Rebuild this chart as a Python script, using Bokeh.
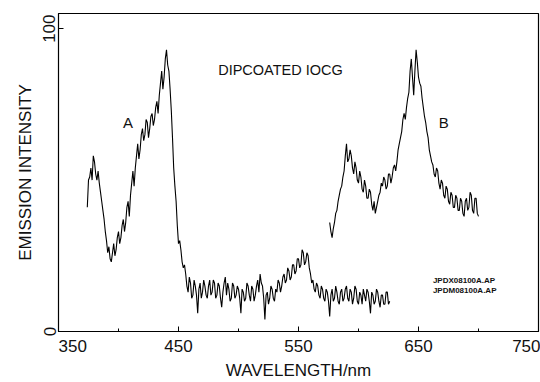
from bokeh.plotting import figure
from bokeh.models import Label, Range1d, FixedTicker
from bokeh.embed import file_html
from bokeh.resources import INLINE

# ---- data (1 nm sampling) ----
wl_a = list(range(374, 627))
int_a = [41, 50, 51, 54, 50, 58, 56, 52, 50, 53,
         49, 46, 43, 40, 37, 33, 30, 26, 28, 24,
         23, 26, 29, 25, 27, 31, 33, 29, 31, 35,
         37, 33, 36, 41, 43, 38, 45, 49, 53, 48,
         54, 58, 62, 57, 60, 65, 67, 63, 65, 70,
         69, 64, 67, 71, 72, 68, 70, 74, 76, 72,
         78, 82, 86, 80, 84, 90, 93, 88, 86, 80,
         73, 64, 54, 48, 43, 35, 29, 30, 27, 23,
         21, 22, 19, 15, 13, 18, 16, 11, 12, 17,
         15, 12, 6, 14, 16, 11, 13, 17, 15, 12,
         11, 15, 17, 12, 13, 17, 16, 11, 12, 16,
         15, 11, 8, 13, 16, 18, 12, 16, 14, 10,
         11, 16, 15, 11, 12, 15, 14, 11, 6, 14,
         13, 10, 11, 16, 15, 12, 10, 15, 14, 10,
         12, 15, 17, 13, 19, 16, 15, 11, 4, 12,
         13, 9, 11, 15, 14, 11, 10, 14, 13, 17,
         16, 13, 15, 18, 19, 16, 17, 21, 20, 17,
         18, 22, 22, 19, 20, 24, 24, 21, 22, 27,
         26, 22, 23, 26, 25, 21, 19, 16, 17, 14,
         13, 16, 15, 12, 11, 15, 14, 11, 10, 14,
         13, 10, 5, 12, 14, 10, 11, 15, 13, 10,
         9, 13, 14, 10, 11, 14, 15, 11, 10, 14,
         13, 9, 11, 15, 14, 10, 9, 13, 12, 9,
         14, 12, 10, 14, 13, 10, 6, 13, 12, 9,
         10, 14, 13, 10, 8, 12, 12, 9, 9, 13,
         13, 9, 10]

wl_b = list(range(576, 701))
int_b = [36, 33, 31, 34, 36, 39, 40, 43, 45, 47,
         48, 51, 53, 58, 62, 56, 57, 60, 58, 54,
         52, 56, 54, 50, 49, 53, 51, 47, 46, 50,
         48, 44, 44, 47, 46, 42, 40, 43, 39, 41,
         43, 45, 46, 49, 48, 51, 50, 47, 48, 52,
         52, 49, 51, 54, 55, 53, 56, 60, 62, 64,
         66, 70, 72, 70, 74, 77, 79, 86, 90, 84,
         78, 86, 93, 89, 84, 82, 81, 77, 74, 71,
         69, 66, 64, 60, 58, 56, 55, 52, 51, 54,
         53, 49, 47, 50, 49, 45, 44, 48, 47, 43,
         42, 46, 45, 41, 41, 45, 44, 40, 40, 44,
         43, 39, 38, 43, 44, 40, 41, 46, 45, 40,
         39, 44, 44, 39, 38]

x_ticks = [350, 450, 550, 650, 750]
y_ticks = [0, 100]
chart_title = "DIPCOATED IOCG"
curve_names = ["A", "B"]
file_names = ["JPDX08100A.AP", "JPDM08100A.AP"]

assert len(wl_a) == len(int_a)
assert len(wl_b) == len(int_b)

FONT = "Liberation Sans"
INK = "#111111"

p = figure(width=540, height=382, output_backend="svg", toolbar_location=None,
           title=None,
           x_range=Range1d(350, 750), y_range=Range1d(0, 105),
           min_border_left=58, min_border_right=2, min_border_top=13,
           min_border_bottom=49)

p.line(wl_a, int_a, line_color="black", line_width=1.1)
p.line(wl_b, int_b, line_color="black", line_width=1.1)

p.grid.visible = False
p.outline_line_color = "black"
p.outline_line_width = 1.2
p.background_fill_color = "white"
p.border_fill_color = "white"

xa = p.xaxis[0]
xa.ticker = FixedTicker(ticks=x_ticks, minor_ticks=[400, 500, 600, 700])
xa.major_label_overrides = {350: "\u00a0" * 6 + "350"}
xa.major_tick_in = 5
xa.major_tick_out = 0
xa.minor_tick_in = 3
xa.minor_tick_out = 0
xa.major_label_standoff = 5
xa.major_label_text_font = FONT
xa.major_label_text_font_size = "17px"
xa.major_label_text_color = INK
xa.axis_label = "WAVELENGTH/nm"
xa.axis_label_standoff = 2
xa.axis_label_text_font = FONT
xa.axis_label_text_font_size = "17px"
xa.axis_label_text_font_style = "normal"
xa.axis_label_text_color = INK
xa.axis_line_color = "black"
xa.axis_line_width = 1.2

ya = p.yaxis[0]
ya.ticker = FixedTicker(ticks=y_ticks)
ya.major_label_orientation = "parallel"
ya.major_tick_in = 5
ya.major_tick_out = 0
ya.minor_tick_line_color = None
ya.major_label_standoff = 3
ya.major_label_text_font = FONT
ya.major_label_text_font_size = "17px"
ya.major_label_text_color = INK
ya.axis_label = "EMISSION INTENSITY"
ya.axis_label_standoff = 6
ya.axis_label_text_font = FONT
ya.axis_label_text_font_size = "17px"
ya.axis_label_text_font_style = "normal"
ya.axis_label_text_color = INK
ya.axis_line_color = "black"

p.add_layout(Label(x=535, y=86.5, text=chart_title, text_align="center",
                   text_baseline="middle", text_font=FONT,
                   text_font_size="14.5px", text_color=INK))
p.add_layout(Label(x=408, y=69, text=curve_names[0], text_align="center",
                   text_baseline="middle", text_font=FONT,
                   text_font_size="15px", text_color=INK))
p.add_layout(Label(x=671, y=69, text=curve_names[1], text_align="center",
                   text_baseline="middle", text_font=FONT,
                   text_font_size="15px", text_color=INK))
p.add_layout(Label(x=662, y=17, text=file_names[0], text_align="left",
                   text_baseline="middle", text_font=FONT, text_font_style="bold",
                   text_font_size="8px", text_color=INK))
p.add_layout(Label(x=662, y=13.6, text=file_names[1], text_align="left",
                   text_baseline="middle", text_font=FONT, text_font_style="bold",
                   text_font_size="8px", text_color=INK))

open("out.html", "w").write(file_html(p, INLINE))
